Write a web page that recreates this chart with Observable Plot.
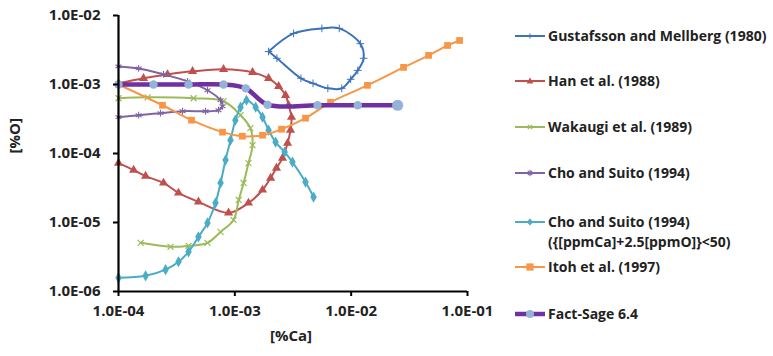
<!DOCTYPE html>
<html>
<head>
<meta charset="utf-8">
<script src="https://cdn.jsdelivr.net/npm/d3@7"></script>
<script src="https://cdn.jsdelivr.net/npm/@observablehq/plot@0.6"></script>
<style>
  body { margin: 0; background: #fff; }
  #wrap { position: relative; width: 773px; height: 356px; font-family: "Open Sans", sans-serif; }
  #legend { position: absolute; left: 514px; top: 0; width: 259px; height: 356px; }
  .item { position: absolute; left: 0; display: flex; align-items: flex-start; font-size: 14px; font-weight: 700; color: #222; line-height: 20px; white-space: nowrap; }
  .item svg { margin-top: 4px; margin-right: 2px; flex: none; }
</style>
</head>
<body>
<div id="wrap"><div id="chart"></div><div id="legend"></div></div>
<script>
// ---- data ----
const seriesNames = [
  "Gustafsson and Mellberg (1980)",
  "Han et al. (1988)",
  "Wakaugi et al. (1989)",
  "Cho and Suito (1994)",
  "Cho and Suito (1994) ({[ppmCa]+2.5[ppmO]}<50)",
  "Itoh et al. (1997)",
  "Fact-Sage 6.4"
];
const colors = ["#3C72BA", "#C0504D", "#9BBB59", "#8064A2", "#4BACC6", "#F79646", "#7030A0"];

const gustCa = [1.95e-3, 3.2e-3, 5.6e-3, 7.9e-3, 1.2e-2, 1.28e-2, 1.14e-2, 9.9e-3, 8.3e-3, 6.3e-3, 4.7e-3, 3.7e-3, 2.3e-3, 1.95e-3];
const gustO  = [3.0e-3, 5.5e-3, 6.5e-3, 6.5e-3, 3.9e-3, 2.4e-3, 1.6e-3, 1.19e-3, 8.8e-4, 8.8e-4, 1.04e-3, 1.23e-3, 2.4e-3, 3.0e-3];

const hanCa = [1.0e-4, 1.35e-4, 1.71e-4, 2.44e-4, 3.28e-4, 4.87e-4, 8.83e-4, 1.31e-3, 1.73e-3, 2.03e-3, 2.28e-3, 2.57e-3, 2.84e-3, 3.01e-3, 3.07e-3, 2.9e-3, 2.73e-3, 2.38e-3, 1.95e-3, 1.42e-3, 8.0e-4, 4.33e-4, 2.64e-4, 1.64e-4, 1.0e-4];
const hanO  = [7.26e-5, 5.75e-5, 4.71e-5, 3.74e-5, 2.68e-5, 1.99e-5, 1.38e-5, 1.92e-5, 2.96e-5, 4.41e-5, 6.15e-5, 8.59e-5, 1.41e-4, 2.18e-4, 3.36e-4, 5.0e-4, 6.98e-4, 9.4e-4, 1.23e-3, 1.5e-3, 1.66e-3, 1.55e-3, 1.4e-3, 1.23e-3, 1.04e-3];

const wakCa = [1.55e-4, 2.8e-4, 4.0e-4, 5.82e-4, 7.54e-4, 9.75e-4, 1.08e-3, 1.19e-3, 1.31e-3, 1.42e-3, 1.36e-3, 1.12e-3, 8.0e-4, 4.42e-4, 1.78e-4, 1.0e-4];
const wakO  = [5.07e-6, 4.44e-6, 4.59e-6, 5.07e-6, 7.31e-6, 1.09e-5, 2.12e-5, 3.74e-5, 7.26e-5, 1.32e-4, 2.33e-4, 3.59e-4, 5.72e-4, 6.32e-4, 6.53e-4, 6.32e-4];

const choCa = [1.0e-4, 1.49e-4, 2.44e-4, 3.92e-4, 5.82e-4, 7.54e-4, 7.84e-4, 7.24e-4, 5.6e-4, 3.55e-4, 2.3e-4, 1.49e-4, 1.0e-4];
const choO  = [1.83e-3, 1.71e-3, 1.4e-3, 1.11e-3, 8.25e-4, 5.91e-4, 4.84e-4, 4.24e-4, 4.1e-4, 4.1e-4, 3.84e-4, 3.59e-4, 3.36e-4];

const cho50Ca = [1.0e-4, 1.71e-4, 2.54e-4, 3.28e-4, 4.0e-4, 4.87e-4, 5.82e-4, 6.82e-4, 7.54e-4, 8.32e-4, 9.18e-4, 1.01e-3, 1.12e-3, 1.26e-3, 1.51e-3, 1.73e-3, 1.95e-3, 2.24e-3, 2.68e-3, 3.13e-3, 4.05e-3, 4.75e-3];
const cho50O  = [1.58e-6, 1.69e-6, 2.07e-6, 2.7e-6, 3.76e-6, 6.19e-6, 9.87e-6, 1.92e-5, 3.74e-5, 8.03e-5, 1.56e-4, 3.04e-4, 4.69e-4, 5.91e-4, 4.69e-4, 3.36e-4, 2.18e-4, 1.46e-4, 1.05e-4, 7.51e-5, 3.86e-5, 2.34e-5];

const itohCa = [1.0e-4, 2.39e-4, 4.24e-4, 7.84e-4, 1.16e-3, 1.73e-3, 2.52e-3, 4.05e-3, 6.65e-3, 1.38e-2, 2.82e-2, 4.63e-2, 6.74e-2, 8.55e-2];
const itohO  = [1.0e-3, 5.0e-4, 3.04e-4, 2.04e-4, 1.78e-4, 1.84e-4, 2.25e-4, 3.25e-4, 5.53e-4, 9.73e-4, 1.77e-3, 2.64e-3, 3.68e-3, 4.35e-3];

const fsCa = [1.0e-4, 2.0e-4, 4.0e-4, 8.0e-4, 1.24e-3, 1.91e-3, 5.14e-3, 1.14e-2, 2.51e-2];
const fsO  = [1.0e-3, 1.0e-3, 1.0e-3, 1.0e-3, 8.8e-4, 5.1e-4, 5.0e-4, 5.0e-4, 5.0e-4];

const xTicks = [1e-4, 1e-3, 1e-2, 1e-1];
const xTickLabels = ["1.0E-04", "1.0E-03", "1.0E-02", "1.0E-01"];
const yTicks = [1e-6, 1e-5, 1e-4, 1e-3, 1e-2];
const yTickLabels = ["1.0E-06", "1.0E-05", "1.0E-04", "1.0E-03", "1.0E-02"];

// ---- build tables ----
const caArrays = [gustCa, hanCa, wakCa, choCa, cho50Ca, itohCa, fsCa];
const oArrays = [gustO, hanO, wakO, choO, cho50O, itohO, fsO];
const tables = caArrays.map((ca, i) => ca.map((c, j) => ({series: seriesNames[i], ca: c, o: oArrays[i][j], idx: j})));

const markerSpec = [
  {symbol: "plus", r: 2.6, stroke: true, sw: 1},
  {symbol: "triangle", r: 3.4, stroke: false},
  {symbol: "times", r: 2.8, stroke: true, sw: 1.2},
  {symbol: "asterisk", r: 3.2, stroke: true, sw: 1.1},
  {symbol: "diamond", r: 3.4, stroke: false},
  {symbol: "square", r: 3.8, stroke: false},
  {symbol: "circle", r: 4.2, stroke: false}
];
const lineWidths = [2, 2, 2, 2, 2, 2, 4.5];
const fsMarkerColor = "#95B3D7";

const marks = [];
tables.forEach((t, i) => {
  marks.push(Plot.line(t, {x: "ca", y: "o", stroke: colors[i], strokeWidth: lineWidths[i], curve: "catmull-rom"}));
  const m = markerSpec[i];
  const dotData = i === 0 ? t.slice(0, -1) : t;
  if (m.stroke) {
    marks.push(Plot.dot(dotData, {x: "ca", y: "o", symbol: m.symbol, r: m.r, stroke: colors[i], strokeWidth: m.sw, fill: "none"}));
  } else {
    const fill = i === 6 ? fsMarkerColor : colors[i];
    marks.push(Plot.dot(dotData, {x: "ca", y: "o", symbol: m.symbol, r: i === 6 ? (d => d.idx === fsCa.length - 1 ? 5.6 : 4.2) : m.r, fill, stroke: "none"}));
  }
});

const chart = Plot.plot({
  width: 773,
  height: 356,
  marginLeft: 118,
  marginRight: 306,
  marginTop: 15,
  marginBottom: 65,
  style: {fontFamily: "'Open Sans', sans-serif", fontSize: "15px", fontWeight: 700, color: "#222", background: "#fff"},
  x: {type: "log", domain: [1e-4, 1e-1]},
  y: {type: "log", domain: [1e-6, 1e-2]},
  r: {type: "identity"},
  marks: [
    ...marks,
    Plot.ruleX([1e-4], {stroke: "#000", strokeWidth: 2.2}),
    Plot.ruleY([1e-6], {stroke: "#000", strokeWidth: 2.2}),
    Plot.axisX({ticks: xTicks, tickFormat: d => xTickLabels[xTicks.indexOf(d)], tickSize: 5, tickPadding: 9, strokeWidth: 2, stroke: "#000", label: null, fontSize: 15}),
    Plot.axisY({ticks: yTicks, tickFormat: d => yTickLabels[yTicks.indexOf(d)], tickSize: 5, tickPadding: 13, strokeWidth: 2, stroke: "#000", label: null, fontSize: 15}),
    Plot.text(["[%O]"], {frameAnchor: "left", dx: -103, rotate: -90, text: d => d, fontSize: 15}),
    Plot.text(["[%Ca]"], {frameAnchor: "bottom", dy: 49, dx: -2, text: d => d, fontSize: 15})
  ]
});
document.getElementById("chart").appendChild(chart);

// ---- legend ----
const legendTops = [26, 71, 117, 163, 212, 257, 304];
const legendLines = [
  ["Gustafsson and Mellberg (1980)"],
  ["Han et al. (1988)"],
  ["Wakaugi et al. (1989)"],
  ["Cho and Suito (1994)"],
  ["Cho and Suito (1994)", "({[ppmCa]+2.5[ppmO]}<50)"],
  ["Itoh et al. (1997)"],
  ["Fact-Sage 6.4"]
];
function swatch(i) {
  const c = colors[i];
  const w = lineWidths[i];
  const markers = [
    `<path d="M16,3.4V8.6M13.4,6H18.6" stroke="${c}" stroke-width="1"/>`,
    `<path d="M16,2.4L19.4,8.4H12.6Z" fill="${c}"/>`,
    `<path d="M13.8,3.8L18.2,8.2M18.2,3.8L13.8,8.2" stroke="${c}" stroke-width="1.2"/>`,
    `<path d="M13.8,3.8L18.2,8.2M18.2,3.8L13.8,8.2M16,2.8V9.2" stroke="${c}" stroke-width="1.1"/>`,
    `<path d="M16,2.6L19.2,6L16,9.4L12.8,6Z" fill="${c}"/>`,
    `<rect x="12.4" y="2.4" width="7.2" height="7.2" fill="${c}"/>`,
    `<circle cx="16" cy="6" r="4" fill="${fsMarkerColor}"/>`
  ];
  return `<svg width="32" height="12"><line x1="1" x2="31" y1="6" y2="6" stroke="${c}" stroke-width="${w}"/>${markers[i]}</svg>`;
}
const legend = document.getElementById("legend");
legendLines.forEach((lines, i) => {
  const div = document.createElement("div");
  div.className = "item";
  div.style.top = legendTops[i] + "px";
  div.innerHTML = swatch(i) + `<div>${lines.map(l => l.replace(/</g, "&lt;")).join("<br>")}</div>`;
  legend.appendChild(div);
});
</script>
</body>
</html>
